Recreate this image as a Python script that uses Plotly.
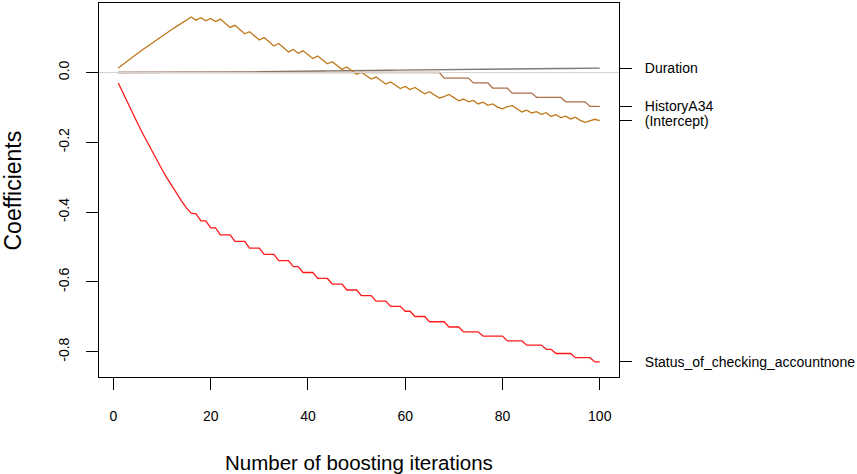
import plotly.graph_objects as go

# Boosting iterations
iterations = list(range(1, 101))

# Coefficient paths along the boosting iterations
status_none = [
    -0.030, -0.060, -0.089, -0.118, -0.146, -0.174, -0.201, -0.227, -0.253, -0.278,
    -0.302, -0.325, -0.347, -0.368, -0.388, -0.403, -0.405, -0.425, -0.425, -0.445,
    -0.445, -0.465, -0.465, -0.465, -0.484, -0.484, -0.484, -0.503, -0.503, -0.503,
    -0.521, -0.521, -0.521, -0.539, -0.539, -0.539, -0.556, -0.556, -0.573, -0.573,
    -0.573, -0.590, -0.590, -0.590, -0.606, -0.606, -0.606, -0.623, -0.623, -0.623,
    -0.639, -0.639, -0.639, -0.655, -0.655, -0.655, -0.670, -0.670, -0.670, -0.684,
    -0.684, -0.699, -0.699, -0.699, -0.714, -0.714, -0.714, -0.714, -0.729, -0.729,
    -0.729, -0.743, -0.743, -0.743, -0.743, -0.755, -0.755, -0.755, -0.755, -0.755,
    -0.769, -0.769, -0.769, -0.769, -0.781, -0.781, -0.781, -0.781, -0.793, -0.793,
    -0.805, -0.805, -0.805, -0.805, -0.817, -0.817, -0.817, -0.817, -0.829, -0.829,
]

intercept = [
    0.013, 0.024, 0.034, 0.045, 0.055, 0.065, 0.075, 0.085, 0.095, 0.105,
    0.114, 0.123, 0.132, 0.141, 0.150, 0.159, 0.150, 0.157, 0.148, 0.155,
    0.146, 0.153, 0.141, 0.129, 0.135, 0.123, 0.111, 0.117, 0.105, 0.093,
    0.100, 0.088, 0.076, 0.083, 0.071, 0.059, 0.066, 0.055, 0.062, 0.051,
    0.040, 0.047, 0.036, 0.025, 0.031, 0.020, 0.009, 0.016, 0.005, -0.005,
    0.001, -0.009, -0.019, -0.013, -0.023, -0.033, -0.027, -0.037, -0.046, -0.040,
    -0.049, -0.043, -0.052, -0.061, -0.055, -0.064, -0.073, -0.069, -0.063, -0.072,
    -0.081, -0.076, -0.084, -0.080, -0.090, -0.085, -0.094, -0.090, -0.099, -0.104,
    -0.098, -0.095, -0.105, -0.113, -0.108, -0.116, -0.112, -0.120, -0.115, -0.126,
    -0.121, -0.129, -0.125, -0.133, -0.128, -0.137, -0.143, -0.139, -0.134, -0.138,
]

history_a34 = [0.0] * 67 + [
    -0.016, -0.016, -0.016, -0.016, -0.016, -0.016,
    -0.030, -0.030, -0.030, -0.030,
    -0.045, -0.045, -0.045, -0.045,
    -0.059, -0.059, -0.059, -0.059, -0.059,
    -0.071, -0.071, -0.071, -0.071, -0.071, -0.071,
    -0.084, -0.084, -0.084, -0.084, -0.084,
    -0.097, -0.097, -0.097,
]

duration = [0.0] * 16 + [
    0.0003, 0.0003, 0.0005, 0.0005, 0.0008, 0.0008, 0.0010, 0.0013, 0.0013, 0.0015,
    0.0018, 0.0018, 0.0020, 0.0023, 0.0023, 0.0025, 0.0028, 0.0028, 0.0030, 0.0033,
    0.0033, 0.0035, 0.0035, 0.0038, 0.0040, 0.0040, 0.0043, 0.0045, 0.0045, 0.0048,
    0.0050, 0.0050, 0.0053, 0.0055, 0.0055, 0.0058, 0.0060, 0.0060, 0.0063, 0.0065,
    0.0065, 0.0068, 0.0070, 0.0070, 0.0073, 0.0073, 0.0075, 0.0078, 0.0078, 0.0080,
    0.0083, 0.0083, 0.0083, 0.0085, 0.0088, 0.0088, 0.0090, 0.0090, 0.0093, 0.0093,
    0.0095, 0.0095, 0.0098, 0.0100, 0.0100, 0.0100, 0.0103, 0.0105, 0.0105, 0.0108,
    0.0108, 0.0110, 0.0110, 0.0113, 0.0113, 0.0115, 0.0115, 0.0118, 0.0118, 0.0120,
    0.0123, 0.0123, 0.0123, 0.0126,
]

series_names = ["Duration", "HistoryA34", "(Intercept)", "Status_of_checking_accountnone"]
series_values = [duration, history_a34, intercept, status_none]
series_colors = ["#7f7875", "#ad6f47", "#bf781a", "#ff1a1a"]

x_ticks = [0, 20, 40, 60, 80, 100]
y_ticks = [0.0, -0.2, -0.4, -0.6, -0.8]
y_tick_labels = ["0.0", "-0.2", "-0.4", "-0.6", "-0.8"]

x_range = [-2.96, 103.96]
y_range = [-0.8723, 0.1991]

FONT = "Liberation Sans, Arial, Helvetica, sans-serif"

fig = go.Figure()
for name, vals, col in zip(series_names, series_values, series_colors):
    fig.add_trace(go.Scatter(
        x=iterations, y=vals, mode="lines", name=name,
        line=dict(color=col, width=1.3), showlegend=False,
    ))

# light reference line at zero, drawn over the paths
fig.add_trace(go.Scatter(x=x_range, y=[0, 0], mode="lines",
                         line=dict(color="#d3d3d3", width=1),
                         showlegend=False, hoverinfo="skip"))

# invisible trace that carries the right-hand axis of final coefficient labels
fig.add_trace(go.Scatter(x=[iterations[-1]], y=[status_none[-1]], yaxis="y2",
                         mode="markers", marker=dict(opacity=0), showlegend=False,
                         hoverinfo="skip"))

final_values = [vals[-1] for vals in series_values]

fig.update_layout(
    width=857, height=474,
    margin=dict(l=99, r=235, t=2, b=97),
    paper_bgcolor="white", plot_bgcolor="white",
    font=dict(family=FONT, size=14, color="black"),
    xaxis=dict(
        range=x_range, tickvals=x_ticks, ticks="outside", ticklen=12,
        tickcolor="black", tickwidth=1, showline=True, linecolor="black",
        linewidth=1, mirror=True, showgrid=False, zeroline=False,
        ticklabelstandoff=14, tickfont=dict(size=14),
    ),
    yaxis=dict(
        range=y_range, tickvals=y_ticks, ticktext=y_tick_labels,
        tickangle=-90, ticks="outside", ticklen=12, tickcolor="black",
        tickwidth=1, showline=True, linecolor="black", linewidth=1,
        mirror=True, showgrid=False, zeroline=False,
        ticklabelstandoff=11, tickfont=dict(size=14),
    ),
    yaxis2=dict(
        range=y_range, overlaying="y", side="right", anchor="x",
        tickvals=final_values, ticktext=series_names, ticks="outside",
        ticklen=12, tickcolor="black", tickwidth=1, showline=False,
        showgrid=False, zeroline=False, ticklabelstandoff=10,
        tickfont=dict(size=14),
    ),
    annotations=[
        dict(text="Coefficients", xref="paper", yref="paper",
             x=(13 - 99) / 523, y=0.5, textangle=-90, showarrow=False,
             xanchor="center", yanchor="middle", font=dict(size=23)),
        dict(text="Number of boosting iterations", xref="paper", yref="paper",
             x=0.5, y=(377 - 463) / 375, showarrow=False,
             xanchor="center", yanchor="middle", font=dict(size=20.5)),
    ],
)

fig.write_html("out.html")
